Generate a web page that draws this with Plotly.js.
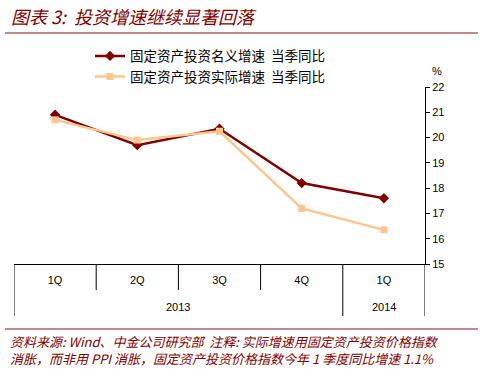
<!DOCTYPE html>
<html><head><meta charset="utf-8">
<script src="https://cdn.plot.ly/plotly-3.0.1.min.js"></script>
<style>html,body{margin:0;padding:0;background:#fff}#c{width:489px;height:369px}</style>
</head><body><div id="c"></div>
<script>
const years = ["2013","2013","2013","2013","2014"];
const quarters = ["1Q","2Q","3Q","4Q","1Q"];
const nominal = [20.9, 19.7, 20.35, 18.2, 17.6];
const real = [20.7, 19.9, 20.25, 17.2, 16.35];
const nameNominal = "固定资产投资名义增速  当季同比";
const nameReal = "固定资产投资实际增速  当季同比";
const titleText = "图表 3:  投资增速继续显著回落";
const footer1 = "资料来源: Wind、中金公司研究部  注释: 实际增速用固定资产投资价格指数";
const footer2 = "消胀，而非用 PPI 消胀，固定资产投资价格指数今年 1 季度同比增速 1.1%";

const cjk = '"Noto Sans CJK SC", "Liberation Sans", Arial, sans-serif';
const red = '#800000';
const light = '#FCC58F';
const rule = '#A86464';

// category keys (unique) and their displayed quarter labels
const keys = years.map((y, i) => y + '-' + quarters[i]);

const traces = [
  {x:keys, y:nominal, name:nameNominal, type:'scatter', mode:'lines+markers',
   line:{color:red, width:2.5}, marker:{symbol:'diamond', size:8, color:red}},
  {x:keys, y:real, name:nameReal, type:'scatter', mode:'lines+markers',
   line:{color:light, width:2.5}, marker:{symbol:'square', size:7, color:light}}
];

// axis furniture derived from the category arrays
const n = keys.length;
const shapes = [
  {type:'line', xref:'paper', yref:'paper', x0:-0.022, x1:1.129, y0:1.305, y1:1.305,
   line:{color:rule, width:1.5}},
  {type:'line', xref:'paper', yref:'paper', x0:-0.022, x1:1.129, y0:-0.367, y1:-0.367,
   line:{color:rule, width:1.5}}
];
const annotations = [];
// short boundary ticks between quarters, long ones between years
for (let b = 0; b <= n; b++) {
  const isYearEdge = (b === 0 || b === n || years[b] !== years[b-1]);
  shapes.push({type:'line', xref:'x', yref:'paper', x0:b-0.5, x1:b-0.5, y0:0,
    y1: isYearEdge ? -0.294 : -0.147, line:{color:'#000', width:1}});
}
// year group labels
let start = 0;
for (let i = 1; i <= n; i++) {
  if (i === n || years[i] !== years[start]) {
    annotations.push({text:years[start], xref:'x', yref:'paper', x:(start + i - 1)/2, y:-0.243,
      xanchor:'center', yanchor:'middle', showarrow:false, font:{size:11, color:'#000'}});
    start = i;
  }
}
annotations.push(
  {text:titleText, xref:'paper', yref:'paper', x:-0.012, y:1.4, xanchor:'left', yanchor:'middle',
   showarrow:false, font:{family:cjk, size:18, color:red, style:'italic'}},
  {text:'%', xref:'paper', yref:'paper', x:1.03, y:1.09, xanchor:'center', yanchor:'middle',
   showarrow:false, font:{size:11}},
  {text:footer1 + '<br>' + footer2, xref:'paper', yref:'paper', x:-0.012, y:-0.378, xanchor:'left', yanchor:'top',
   align:'left', showarrow:false, borderpad:0, font:{family:cjk, size:13, color:red, style:'italic'}}
);

const layout = {
  width:489, height:369,
  margin:{l:14, r:64, t:87, b:105},
  paper_bgcolor:'#fff', plot_bgcolor:'#fff',
  font:{family:'"Liberation Sans", Arial, sans-serif', size:11, color:'#000'},
  showlegend:true,
  legend:{x:0.185, y:1.262, xanchor:'left', yanchor:'top', bgcolor:'rgba(0,0,0,0)',
    font:{family:cjk, size:13.5, color:'#000'}, tracegroupgap:0, itemwidth:30},
  xaxis:{type:'category', range:[-0.5, n-0.5], showline:true, linecolor:'#000', linewidth:1,
    ticks:'', tickvals:keys, ticktext:quarters, ticklabelstandoff:6,
    showgrid:false, zeroline:false, tickfont:{size:11}},
  yaxis:{side:'right', range:[15,22], dtick:1, showline:true, linecolor:'#000',
    ticks:'outside', ticklen:4, tickcolor:'#000', showgrid:false, zeroline:false,
    tickfont:{size:11}},
  shapes:shapes,
  annotations:annotations
};
Plotly.newPlot('c', traces, layout, {displayModeBar:false, staticPlot:true});
</script></body></html>
